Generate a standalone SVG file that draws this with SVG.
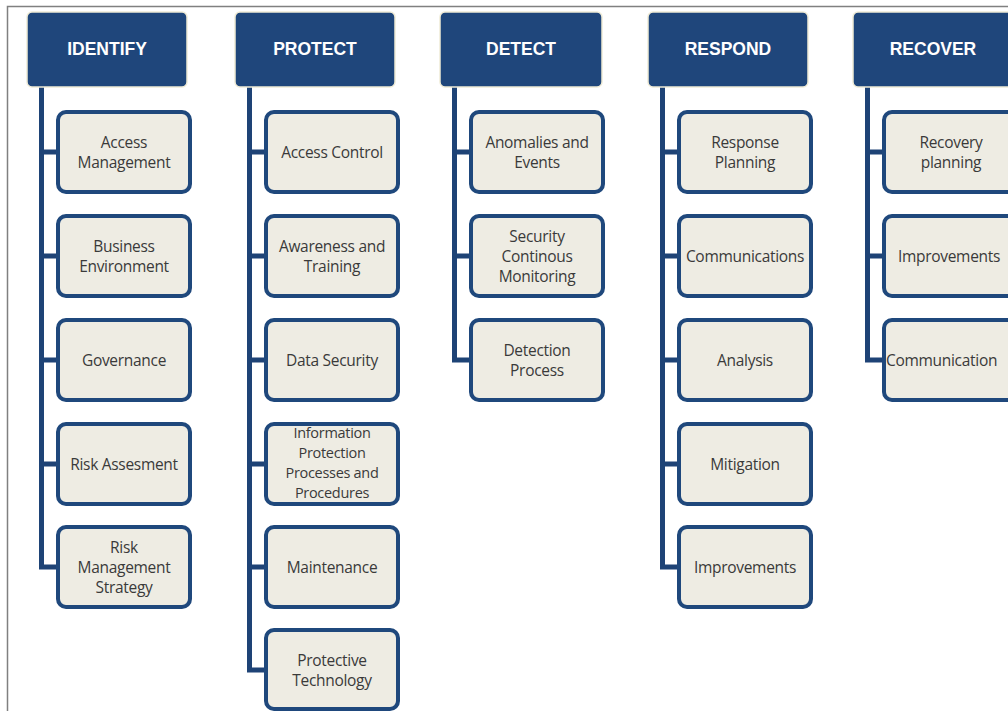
<svg xmlns="http://www.w3.org/2000/svg" width="1008" height="711" viewBox="0 0 1008 711">
<style>
.hdr{fill:#1f467b;stroke:#efebd6;stroke-width:1.5}
.ht{font-family:"Liberation Sans",Arial,sans-serif;font-weight:bold;font-size:17.5px;fill:#ffffff;text-anchor:middle}
.box{fill:#eeece3;stroke:#1f487c;stroke-width:4}
.bt{font-family:"Open Sans","Liberation Sans",sans-serif;font-size:15.5px;fill:#3a3a3a;text-anchor:middle;letter-spacing:-0.3px}
.sm{font-size:14.5px}
.con{fill:none;stroke:#1e4376;stroke-width:5;stroke-linejoin:miter}
.frame{stroke:#808080;stroke-width:1.5;fill:none}
</style>
<rect width="1008" height="711" fill="#ffffff"/>
<path class="frame" d="M7.5 711 V6.5 H1008"/>
<g id="connectors">
<path class="con" d="M41.5 87 V567 H58 M41.5 152 H58 M41.5 256 H58 M41.5 360 H58 M41.5 464 H58"/>
<path class="con" d="M249.5 87 V670 H266 M249.5 152 H266 M249.5 256 H266 M249.5 360 H266 M249.5 464 H266 M249.5 567 H266"/>
<path class="con" d="M454.5 87 V360 H471 M454.5 152 H471 M454.5 256 H471"/>
<path class="con" d="M662.5 87 V567 H679 M662.5 152 H679 M662.5 256 H679 M662.5 360 H679 M662.5 464 H679"/>
<path class="con" d="M867.5 87 V360 H884 M867.5 152 H884 M867.5 256 H884"/>
</g>
<g id="identify">
<rect class="hdr" x="27" y="12" width="160" height="75" rx="5"/>
<text class="ht" x="107" y="54.5">IDENTIFY</text>
</g>
<g id="identify-access-management"><rect class="box" x="58" y="112" width="132" height="80" rx="8"/><text class="bt" x="124" y="147.5">Access</text><text class="bt" x="124" y="167.5">Management</text></g>
<g id="identify-business-environment"><rect class="box" x="58" y="216" width="132" height="80" rx="8"/><text class="bt" x="124" y="251.5">Business</text><text class="bt" x="124" y="271.5">Environment</text></g>
<g id="identify-governance"><rect class="box" x="58" y="320" width="132" height="80" rx="8"/><text class="bt" x="124" y="365.5">Governance</text></g>
<g id="identify-risk-assesment"><rect class="box" x="58" y="424" width="132" height="80" rx="8"/><text class="bt" x="124" y="469.5">Risk Assesment</text></g>
<g id="identify-risk-management-strategy"><rect class="box" x="58" y="527" width="132" height="80" rx="8"/><text class="bt" x="124" y="552.5">Risk</text><text class="bt" x="124" y="572.5">Management</text><text class="bt" x="124" y="592.5">Strategy</text></g>

<g id="protect">
<rect class="hdr" x="235" y="12" width="160" height="75" rx="5"/>
<text class="ht" x="315" y="54.5">PROTECT</text>
</g>
<g id="protect-access-control"><rect class="box" x="266" y="112" width="132" height="80" rx="8"/><text class="bt" x="332" y="157.5">Access Control</text></g>
<g id="protect-awareness-training"><rect class="box" x="266" y="216" width="132" height="80" rx="8"/><text class="bt" x="332" y="251.5">Awareness and</text><text class="bt" x="332" y="271.5">Training</text></g>
<g id="protect-data-security"><rect class="box" x="266" y="320" width="132" height="80" rx="8"/><text class="bt" x="332" y="365.5">Data Security</text></g>
<g id="protect-information-protection"><rect class="box" x="266" y="424" width="132" height="80" rx="8"/><text class="bt sm" x="332" y="438">Information</text><text class="bt sm" x="332" y="458">Protection</text><text class="bt sm" x="332" y="478">Processes and</text><text class="bt sm" x="332" y="498">Procedures</text></g>
<g id="protect-maintenance"><rect class="box" x="266" y="527" width="132" height="80" rx="8"/><text class="bt" x="332" y="572.5">Maintenance</text></g>
<g id="protect-protective-technology"><rect class="box" x="266" y="630" width="132" height="79" rx="8"/><text class="bt" x="332" y="665.5">Protective</text><text class="bt" x="332" y="685.5">Technology</text></g>

<g id="detect">
<rect class="hdr" x="440" y="12" width="162" height="75" rx="5"/>
<text class="ht" x="521" y="54.5">DETECT</text>
</g>
<g id="detect-anomalies-events"><rect class="box" x="471" y="112" width="132" height="80" rx="8"/><text class="bt" x="537" y="147.5">Anomalies and</text><text class="bt" x="537" y="167.5">Events</text></g>
<g id="detect-security-monitoring"><rect class="box" x="471" y="216" width="132" height="80" rx="8"/><text class="bt" x="537" y="241.5">Security</text><text class="bt" x="537" y="261.5">Continous</text><text class="bt" x="537" y="281.5">Monitoring</text></g>
<g id="detect-detection-process"><rect class="box" x="471" y="320" width="132" height="80" rx="8"/><text class="bt" x="537" y="355.5">Detection</text><text class="bt" x="537" y="375.5">Process</text></g>

<g id="respond">
<rect class="hdr" x="648" y="12" width="160" height="75" rx="5"/>
<text class="ht" x="728" y="54.5">RESPOND</text>
</g>
<g id="respond-response-planning"><rect class="box" x="679" y="112" width="132" height="80" rx="8"/><text class="bt" x="745" y="147.5">Response</text><text class="bt" x="745" y="167.5">Planning</text></g>
<g id="respond-communications"><rect class="box" x="679" y="216" width="132" height="80" rx="8"/><text class="bt" x="745" y="261.5">Communications</text></g>
<g id="respond-analysis"><rect class="box" x="679" y="320" width="132" height="80" rx="8"/><text class="bt" x="745" y="365.5">Analysis</text></g>
<g id="respond-mitigation"><rect class="box" x="679" y="424" width="132" height="80" rx="8"/><text class="bt" x="745" y="469.5">Mitigation</text></g>
<g id="respond-improvements"><rect class="box" x="679" y="527" width="132" height="80" rx="8"/><text class="bt" x="745" y="572.5">Improvements</text></g>

<g id="recover">
<rect class="hdr" x="853" y="12" width="162" height="75" rx="5"/>
<text class="ht" x="933" y="54.5">RECOVER</text>
</g>
<g id="recover-recovery-planning"><rect class="box" x="884" y="112" width="132" height="80" rx="8"/><text class="bt" x="951" y="147.5">Recovery</text><text class="bt" x="951" y="167.5">planning</text></g>
<g id="recover-improvements"><rect class="box" x="884" y="216" width="132" height="80" rx="8"/><text class="bt" x="949" y="261.5">Improvements</text></g>
<g id="recover-communication"><rect class="box" x="884" y="320" width="132" height="80" rx="8"/><text class="bt" x="886" y="365.5" style="text-anchor:start">Communication</text></g>
</svg>
